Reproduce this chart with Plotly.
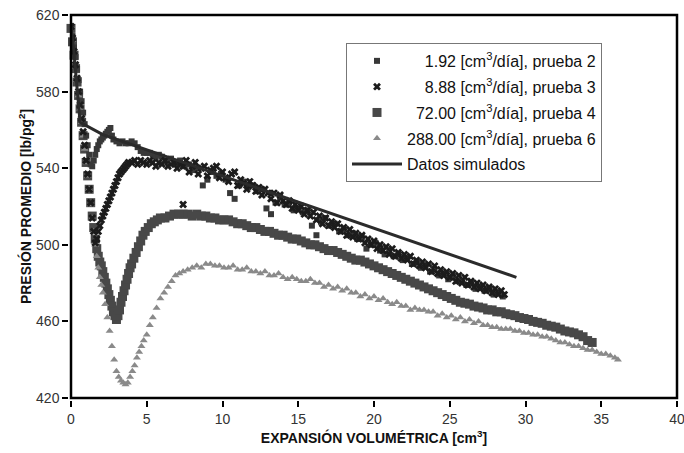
import plotly.graph_objects as go

# ---------------- data ----------------
x_p2 = [0.0,0.1,0.2,0.3,0.4,0.5,0.6,0.7,0.8,0.9,1.0,1.1,1.2,1.3,1.4,1.5,1.6,1.7,1.8,1.9,
        2.0,2.1,2.2,2.3,2.4,2.5,2.6,2.7,2.8,3.0,3.2,3.4,3.6,3.8,4.0,4.2,4.4,4.6,4.8,5.0,
        5.2,5.4,5.6,5.8,
        6.0,6.3,6.6,6.9,7.2,7.5,7.8,8.1,8.4,8.7,9.0,9.3,9.6,9.9,10.2,10.5,10.8,11.1,11.4,11.7,
        12.0,12.3,12.6,12.9,13.2,13.5,13.8,14.1,14.4,14.7,15.0,15.3,15.6,15.9,16.2,16.5,16.8,17.1,
        17.4,17.7,18.0,18.3,18.6,18.9,19.2,19.5,19.8,20.1,20.4,20.7,21.0,21.3,21.6,21.9,22.2,22.5,
        22.8,23.1,23.4,23.7,24.0,24.3,24.6,24.9,25.2,25.5,25.8,26.1,26.4,26.7,27.0,27.3,27.6,27.9,
        28.2,28.5]
y_p2 = [614,609,603,598,592,586,580,575,569,563,557,552,547,542,541,544,547,550,552,554,
        555,556,557,558,559,560,561,557,555,554,553,554,553,553,554,553,551,549,548,548,
        548,547,546,547,
        546,544,545,543,544,541,542,539,540,531,534,538,536,537,534,527,524,531,533,530,
        531,528,529,519,516,522,525,521,522,518,519,517,518,510,505,512,514,510,
        511,507,508,505,506,503,504,498,500,501,497,495,497,494,495,492,493,490,
        491,488,489,486,487,484,485,482,483,481,481,479,480,477,478,476,477,474,
        475,473]

x_p3 = [0.0,0.1,0.2,0.3,0.4,0.5,0.6,0.7,0.8,0.9,1.0,1.1,1.2,1.3,1.4,1.5,1.6,1.7,1.8,1.9,
        2.0,2.1,2.2,2.3,2.4,2.5,2.6,2.7,2.8,2.9,3.0,3.1,3.2,3.3,3.4,3.5,3.6,3.7,3.8,
        4.0,4.2,4.4,4.6,4.8,5.0,5.2,5.4,5.6,5.8,6.0,6.2,6.4,6.6,6.8,7.0,7.2,7.4,7.4,
        7.6,7.8,8.0,8.2,8.4,8.6,8.8,9.0,9.2,9.4,9.6,9.8,10.0,10.2,10.4,10.6,10.8,
        11.0,11.2,11.4,11.6,11.8,12.0,12.2,12.4,12.6,12.8,13.0,13.2,13.4,13.6,13.8,
        14.0,14.2,14.4,14.6,14.8,15.0,15.2,15.4,15.6,15.8,16.0,16.2,16.4,16.6,16.8,
        17.0,17.2,17.4,17.6,17.8,18.0,18.2,18.4,18.6,18.8,19.0,19.2,19.4,19.6,19.8,
        20.0,20.2,20.4,20.6,20.8,21.0,21.2,21.4,21.6,21.8,22.0,22.2,22.4,22.6,22.8,
        23.0,23.2,23.4,23.6,23.8,24.0,24.2,24.4,24.6,24.8,25.0,25.2,25.4,25.6,25.8,
        26.0,26.2,26.4,26.6,26.8,27.0,27.2,27.4,27.6,27.8,28.0,28.2,28.4,28.6]
y_p3 = [614,608,601,594,587,580,573,566,559,552,544,537,529,522,514,507,501,503,507,510,
        513,515,517,519,521,523,525,527,529,531,533,535,537,538,539,540,541,542,543,
        543,544,542,544,543,542,544,543,541,543,542,544,541,542,543,540,542,541,521,
        544,538,541,543,537,540,541,536,539,540,541,535,538,535,533,537,538,
        531,534,532,529,533,531,528,530,526,529,527,524,527,522,526,
        523,521,523,519,521,518,520,516,518,515,517,513,515,511,514,
        510,512,509,511,507,509,505,508,504,506,503,505,501,503,500,
        502,498,500,497,499,495,498,494,496,493,495,492,494,490,492,
        489,491,488,490,486,489,485,487,484,486,483,485,481,484,480,
        483,479,481,478,480,477,479,476,478,475,477,474,476,474]

x_p4 = [0.0,0.1,0.2,0.3,0.4,0.5,0.6,0.7,0.8,0.9,1.0,1.1,1.2,1.3,1.4,1.5,1.6,1.7,1.8,1.9,
        2.0,2.1,2.2,2.3,2.4,2.5,2.6,2.7,2.8,2.9,3.0,3.1,3.2,3.3,3.4,3.5,3.6,3.7,3.8,3.9,
        4.0,4.15,4.3,4.45,4.6,4.75,4.9,5.1,5.3,5.5,5.7,5.9,
        6.2,6.5,6.8,7.1,7.4,7.7,8.0,8.3,8.6,8.9,9.2,9.5,9.8,10.1,10.4,10.7,11.0,11.3,11.6,11.9,
        12.2,12.5,12.8,13.1,13.4,13.7,14.0,14.3,14.6,14.9,15.2,15.5,15.8,16.1,16.4,16.7,17.0,
        17.3,17.6,17.9,18.2,18.5,18.8,19.1,19.4,19.7,20.0,20.3,20.6,20.9,21.2,21.5,21.8,22.1,
        22.4,22.7,23.0,23.3,23.6,23.9,24.2,24.5,24.8,25.1,25.4,25.7,26.0,26.3,26.6,26.9,27.2,
        27.5,27.8,28.1,28.4,28.7,29.0,29.3,29.6,29.9,30.2,30.5,30.8,31.1,31.4,31.7,32.0,32.3,
        32.6,32.9,33.2,33.5,33.8,34.1,34.4]
y_p4 = [613,606,599,592,585,578,571,564,557,550,543,536,529,522,515,509,503,498,494,491,
        489,486,483,480,477,474,471,468,465,463,461,463,466,470,473,476,479,482,485,488,
        490,493,496,499,502,505,507,509,511,512,513,514,
        514,515,516,516,516,516,515,516,515,515,514,514,513,513,513,512,511,511,510,509,
        509,508,507,507,506,505,505,504,503,503,502,501,500,500,499,498,497,
        497,496,495,494,493,492,492,491,490,489,488,487,486,485,484,483,
        482,481,480,479,478,477,476,475,474,473,472,471,470,469.5,469,468,467.5,
        467,466,466,465,465,464,463.5,463,462,461.5,461,460,459.5,459,458,457.5,
        457,456,455,454.5,454,453,452,450,449]

x_p6 = [0.0,0.1,0.2,0.3,0.4,0.5,0.6,0.7,0.8,0.9,1.0,1.1,1.2,1.3,1.4,1.5,1.6,1.7,1.8,1.9,2.0,2.1,
        2.25,2.4,2.55,2.7,2.85,3.0,3.15,3.3,3.45,3.6,3.75,3.9,4.05,4.2,4.35,4.5,4.65,4.8,
        5.0,5.2,5.4,5.65,5.9,6.15,6.4,6.65,6.9,7.15,7.4,
        7.7,8.0,8.3,8.6,8.9,9.2,9.5,9.8,10.1,10.4,10.7,11.0,11.3,11.6,11.9,12.2,12.5,12.8,13.1,13.4,
        13.7,14.0,14.3,14.6,14.9,15.2,15.5,15.8,16.1,16.4,16.7,17.0,17.3,17.6,17.9,18.2,18.5,18.8,
        19.1,19.4,19.7,20.0,20.3,20.6,20.9,21.2,21.5,21.8,22.1,22.4,22.7,23.0,23.3,23.6,23.9,24.2,
        24.5,24.8,25.1,25.4,25.7,26.0,26.3,26.6,26.9,27.2,27.5,27.8,28.1,28.4,28.7,29.0,29.3,29.6,
        29.9,30.2,30.5,30.8,31.1,31.4,31.7,32.0,32.3,32.6,32.9,33.2,33.5,33.8,34.1,34.4,34.7,35.0,
        35.3,35.6,35.9,36.1]
y_p6 = [614,607,600,593,586,578,571,564,557,550,543,536,529,521,514,507,500,494,488,483,479,475,
        469,462,455,447,440,434,431,429,428,427,428,431,434,437,441,444,447,450,
        453,458,462,467,472,475,478,481,484,485,486,
        487,488,489,488,490,490,489,489,488,488,489,487,487,488,486,486,485,486,484,484,
        485,483,482,483,482,481,481,482,480,480,478,479,477,478,476,477,475,475,
        473,474,472,473,471,472,470,469,470,468,468,466,467,466,466,465,465,463,
        464,462,463,461,462,460,461,459,460,458,458,457,457,456,456,456,455,455,
        454,454,453,453,452,452,451,450,449,449,448,447,447,446,445,445,444,443,
        443,442,441,440]

x_sim = [0.0, 0.2, 0.4, 0.6, 2.1, 29.4]
y_sim = [614, 600, 582, 564, 557.5, 483]

names = ["\u2007\u20071.92 [cm<sup>3</sup>/día], prueba 2",
         "\u2007\u20078.88 [cm<sup>3</sup>/día], prueba 3",
         "\u200772.00 [cm<sup>3</sup>/día], prueba 4",
         "288.00 [cm<sup>3</sup>/día], prueba 6",
         "Datos simulados"]

x_ticks = [0, 5, 10, 15, 20, 25, 30, 35, 40]
y_ticks = [420, 460, 500, 540, 580, 620]

FONT = "Liberation Sans, Arial, sans-serif"

fig = go.Figure()
fig.add_trace(go.Scatter(x=x_p2, y=y_p2, mode="markers", name=names[0], legendgroup="a",
                         marker=dict(symbol="square", size=6, color="#383838"),
                         cliponaxis=False, zorder=3))
fig.add_trace(go.Scatter(x=x_p3, y=y_p3, mode="markers", name=names[1], legendgroup="b",
                         marker=dict(symbol="x", size=7, color="#1c1c1c"),
                         cliponaxis=False, zorder=4))
fig.add_trace(go.Scatter(x=x_p4, y=y_p4, mode="markers", name=names[2], legendgroup="c",
                         marker=dict(symbol="square", size=9, color="#484848"),
                         cliponaxis=False, zorder=1))
fig.add_trace(go.Scatter(x=x_p6, y=y_p6, mode="markers", name=names[3], legendgroup="d",
                         marker=dict(symbol="triangle-up", size=7, color="#8a8a8a"),
                         cliponaxis=False, zorder=2))
fig.add_trace(go.Scatter(x=x_sim, y=y_sim, mode="lines", name=names[4], legendgroup="e",
                         line=dict(color="#2b2b2b", width=3),
                         cliponaxis=False, zorder=5))

axis_common = dict(showgrid=False, zeroline=False, showline=True, linecolor="black",
                   linewidth=2.5, mirror=True, ticks="outside", ticklen=6, tickwidth=2,
                   tickcolor="black", ticklabeloverflow="allow",
                   tickfont=dict(family=FONT, size=14, color="#333333"))

fig.update_xaxes(range=[0, 40], tickvals=x_ticks, ticktext=[str(v) for v in x_ticks],
                 title=dict(text="<b>EXPANSIÓN VOLUMÉTRICA [cm<sup>3</sup>]</b>",
                            font=dict(family=FONT, size=14, color="#111111"), standoff=8),
                 **axis_common)
fig.update_yaxes(range=[420, 620], tickvals=y_ticks, ticktext=[str(v) for v in y_ticks],
                 title=dict(text="<b>PRESIÓN PROMEDIO [lb/pg<sup>2</sup>]</b>",
                            font=dict(family=FONT, size=14, color="#111111"), standoff=2),
                 **axis_common)

# explicit frame around the plotting area
fig.add_shape(type="rect", xref="paper", yref="paper", x0=0, y0=0, x1=1, y1=1,
              line=dict(color="black", width=2.5), fillcolor="rgba(0,0,0,0)", layer="above")

fig.update_layout(
    width=684, height=453,
    margin=dict(l=71, r=7, t=15, b=55, autoexpand=False),
    paper_bgcolor="white", plot_bgcolor="white",
    font=dict(family=FONT, size=14, color="#111111"),
    legend=dict(x=0.4538, y=0.927, xanchor="left", yanchor="top",
                bgcolor="white", bordercolor="#777777", borderwidth=1,
                font=dict(family=FONT, size=16, color="#111111"),
                traceorder="grouped", tracegroupgap=2, itemwidth=50),
    showlegend=True,
)

# remove the browser's default page margin so the figure sits at the window origin
fig.write_html("out.html",
               config={"displayModeBar": False},
               post_script="document.body.style.margin='0px';"
                           "document.body.style.padding='0px';"
                           "document.documentElement.style.overflow='hidden';")
